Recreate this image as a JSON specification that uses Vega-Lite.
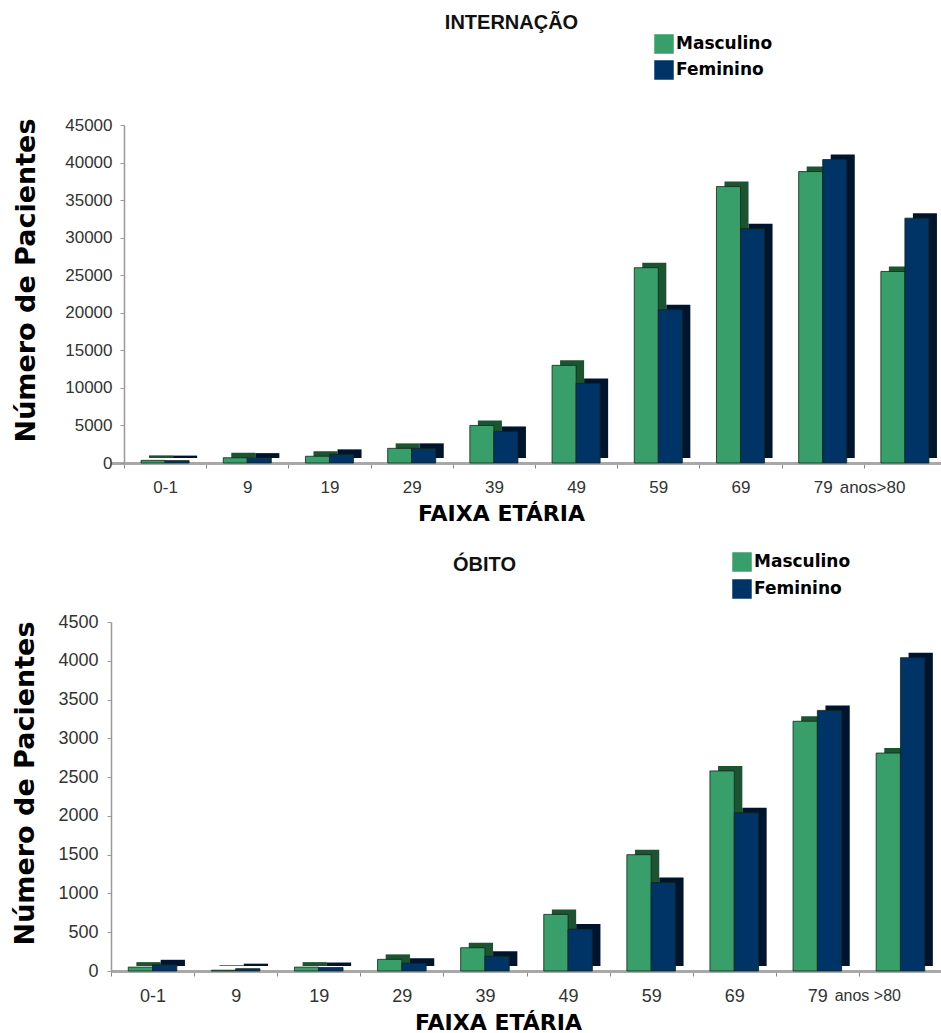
{
  "$schema": "https://vega.github.io/schema/vega-lite/v6.json",
  "background": "white",
  "padding": {"left": 11, "top": 13, "right": 0, "bottom": 0},
  "datasets": {
    "internacao": [
      {"faixa": "0-1", "sexo": "Masculino", "pacientes": 350},
      {"faixa": "0-1", "sexo": "Feminino", "pacientes": 320},
      {"faixa": "9", "sexo": "Masculino", "pacientes": 700},
      {"faixa": "9", "sexo": "Feminino", "pacientes": 650},
      {"faixa": "19", "sexo": "Masculino", "pacientes": 900},
      {"faixa": "19", "sexo": "Feminino", "pacientes": 1150},
      {"faixa": "29", "sexo": "Masculino", "pacientes": 1950},
      {"faixa": "29", "sexo": "Feminino", "pacientes": 1950},
      {"faixa": "39", "sexo": "Masculino", "pacientes": 5000},
      {"faixa": "39", "sexo": "Feminino", "pacientes": 4200},
      {"faixa": "49", "sexo": "Masculino", "pacientes": 13000},
      {"faixa": "49", "sexo": "Feminino", "pacientes": 10600},
      {"faixa": "59", "sexo": "Masculino", "pacientes": 26000},
      {"faixa": "59", "sexo": "Feminino", "pacientes": 20400},
      {"faixa": "69", "sexo": "Masculino", "pacientes": 36800},
      {"faixa": "69", "sexo": "Feminino", "pacientes": 31200},
      {"faixa": "79", "sexo": "Masculino", "pacientes": 38800},
      {"faixa": "79", "sexo": "Feminino", "pacientes": 40400},
      {"faixa": ">80", "sexo": "Masculino", "pacientes": 25500},
      {"faixa": ">80", "sexo": "Feminino", "pacientes": 32600}
    ],
    "obito": [
      {"faixa": "0-1", "sexo": "Masculino", "pacientes": 50},
      {"faixa": "0-1", "sexo": "Feminino", "pacientes": 80},
      {"faixa": "9", "sexo": "Masculino", "pacientes": 10},
      {"faixa": "9", "sexo": "Feminino", "pacientes": 30},
      {"faixa": "19", "sexo": "Masculino", "pacientes": 50},
      {"faixa": "19", "sexo": "Feminino", "pacientes": 45},
      {"faixa": "29", "sexo": "Masculino", "pacientes": 150},
      {"faixa": "29", "sexo": "Feminino", "pacientes": 100},
      {"faixa": "39", "sexo": "Masculino", "pacientes": 300},
      {"faixa": "39", "sexo": "Feminino", "pacientes": 190},
      {"faixa": "49", "sexo": "Masculino", "pacientes": 730},
      {"faixa": "49", "sexo": "Feminino", "pacientes": 540},
      {"faixa": "59", "sexo": "Masculino", "pacientes": 1500},
      {"faixa": "59", "sexo": "Feminino", "pacientes": 1140},
      {"faixa": "69", "sexo": "Masculino", "pacientes": 2580},
      {"faixa": "69", "sexo": "Feminino", "pacientes": 2040},
      {"faixa": "79", "sexo": "Masculino", "pacientes": 3220},
      {"faixa": "79", "sexo": "Feminino", "pacientes": 3360},
      {"faixa": ">80", "sexo": "Masculino", "pacientes": 2810},
      {"faixa": ">80", "sexo": "Feminino", "pacientes": 4040}
    ]
  },
  "vconcat": [
    {
      "data": {"name": "internacao"},
      "width": 835,
      "height": 338,
      "title": {
        "text": "INTERNAÇÃO",
        "font": "Liberation Sans",
        "fontSize": 20,
        "fontWeight": "bold",
        "color": "#111111",
        "anchor": "middle",
        "dx": -17,
        "baseline": "alphabetic",
        "offset": -15
      },
      "encoding": {
        "x": {
          "field": "faixa",
          "type": "nominal",
          "sort": ["0-1", "9", "19", "29", "39", "49", "59", "69", "79", ">80"],
          "scale": {"paddingInner": 0, "paddingOuter": 0.079, "align": 1},
          "axis": {
            "title": "FAIXA ETÁRIA",
            "titleFont": "DejaVu Sans",
            "titleFontSize": 22,
            "titleFontWeight": "bold",
            "titleColor": "black",
            "titleX": 390,
            "titlePadding": 8,
            "labelAngle": 0,
            "labelFont": "Liberation Sans",
            "labelFontSize": 17,
            "labelColor": "#333333",
            "labelPadding": 11,
            "labelExpr": "datum.value == '>80' ? 'anos>80' : datum.value",
            "labelAlign": {"condition": {"test": "datum.value == '>80'", "value": "right"}, "value": "center"},
            "tickBand": "extent",
            "tickSize": 5,
            "tickColor": "#888888",
            "domainColor": "#a8a8a8",
            "domainWidth": 3
          }
        },
        "y": {
          "field": "pacientes",
          "type": "quantitative",
          "scale": {"domain": [0, 45000], "nice": false},
          "axis": {
            "title": "Número de Pacientes",
            "titleFont": "DejaVu Sans",
            "titleFontSize": 27,
            "titleFontWeight": "bold",
            "titleColor": "black",
            "titlePadding": 24,
            "titleY": 155,
            "offset": -13,
            "values": [0, 5000, 10000, 15000, 20000, 25000, 30000, 35000, 40000, 45000],
            "format": "d",
            "labelFont": "Liberation Sans",
            "labelFontSize": 17,
            "labelColor": "#333333",
            "labelPadding": 8,
            "tickSize": 4,
            "tickColor": "#999999",
            "domainColor": "#999999",
            "domainWidth": 1.5,
            "grid": false
          }
        }
      },
      "layer": [
        {
          "mark": {"type": "bar", "yOffset": -5, "y2Offset": -5},
          "encoding": {
            "xOffset": {
              "field": "sexo",
              "sort": ["Masculino", "Feminino"],
              "scale": {"paddingInner": 0, "paddingOuter": 0.71, "align": 0.735}
            },
            "fill": {
              "condition": {"test": "datum.sexo == 'Masculino'", "value": "#1c5431"},
              "value": "#00142e"
            }
          }
        },
        {
          "mark": {"type": "bar", "stroke": "#10261a", "strokeWidth": 0.8},
          "encoding": {
            "xOffset": {
              "field": "sexo",
              "sort": ["Masculino", "Feminino"],
              "scale": {"paddingInner": 0, "paddingOuter": 0.71, "align": 0.5}
            },
            "color": {
              "field": "sexo",
              "scale": {"domain": ["Masculino", "Feminino"], "range": ["#389e6a", "#003366"]},
              "legend": {
                "title": null,
                "orient": "none",
                "legendX": 543,
                "legendY": -91,
                "symbolType": "square",
                "symbolSize": 380,
                "symbolStrokeWidth": 0,
                "labelFont": "DejaVu Sans",
                "labelFontSize": 17,
                "labelFontWeight": "bold",
                "labelColor": "black",
                "labelOffset": 2,
                "rowPadding": 6
              }
            }
          }
        }
      ],
      "resolve": {"scale": {"xOffset": "independent"}}
    },
    {
      "data": {"name": "obito"},
      "width": 831,
      "height": 349,
      "title": {
        "text": "ÓBITO",
        "font": "Liberation Sans",
        "fontSize": 20,
        "fontWeight": "bold",
        "color": "#111111",
        "anchor": "middle",
        "dx": -42,
        "baseline": "alphabetic",
        "offset": -39
      },
      "encoding": {
        "x": {
          "field": "faixa",
          "type": "nominal",
          "sort": ["0-1", "9", "19", "29", "39", "49", "59", "69", "79", ">80"],
          "scale": {"paddingInner": 0, "paddingOuter": 0},
          "axis": {
            "title": "FAIXA ETÁRIA",
            "titleFont": "DejaVu Sans",
            "titleFontSize": 22,
            "titleFontWeight": "bold",
            "titleColor": "black",
            "titleX": 387,
            "titlePadding": 7,
            "labelAngle": 0,
            "labelFont": "Liberation Sans",
            "labelColor": "#333333",
            "labelPadding": 11,
            "labelExpr": "datum.value == '>80' ? 'anos >80' : datum.value",
            "labelAlign": {"condition": {"test": "datum.value == '>80'", "value": "right"}, "value": "center"},
            "labelFontSize": {"condition": {"test": "datum.value == '>80'", "value": 16}, "value": 18},
            "tickBand": "extent",
            "tickSize": 5,
            "tickColor": "#888888",
            "domainColor": "#a8a8a8",
            "domainWidth": 3
          }
        },
        "y": {
          "field": "pacientes",
          "type": "quantitative",
          "scale": {"domain": [0, 4500], "nice": false},
          "axis": {
            "title": "Número de Pacientes",
            "titleFont": "DejaVu Sans",
            "titleFontSize": 27,
            "titleFontWeight": "bold",
            "titleColor": "black",
            "titlePadding": 18,
            "titleY": 161,
            "values": [0, 500, 1000, 1500, 2000, 2500, 3000, 3500, 4000, 4500],
            "format": "d",
            "labelFont": "Liberation Sans",
            "labelFontSize": 18,
            "labelColor": "#333333",
            "labelPadding": 9,
            "tickSize": 4,
            "tickColor": "#999999",
            "domainColor": "#999999",
            "domainWidth": 1.5,
            "grid": false
          }
        }
      },
      "layer": [
        {
          "mark": {"type": "bar", "yOffset": -5, "y2Offset": -5},
          "encoding": {
            "xOffset": {
              "field": "sexo",
              "sort": ["Masculino", "Feminino"],
              "scale": {"paddingInner": 0, "paddingOuter": 0.71, "align": 0.735}
            },
            "fill": {
              "condition": {"test": "datum.sexo == 'Masculino'", "value": "#1c5431"},
              "value": "#00142e"
            }
          }
        },
        {
          "mark": {"type": "bar", "stroke": "#10261a", "strokeWidth": 0.8},
          "encoding": {
            "xOffset": {
              "field": "sexo",
              "sort": ["Masculino", "Feminino"],
              "scale": {"paddingInner": 0, "paddingOuter": 0.71, "align": 0.5}
            },
            "color": {
              "field": "sexo",
              "scale": {"domain": ["Masculino", "Feminino"], "range": ["#389e6a", "#003366"]},
              "legend": {
                "title": null,
                "orient": "none",
                "legendX": 621,
                "legendY": -70,
                "symbolType": "square",
                "symbolSize": 380,
                "symbolStrokeWidth": 0,
                "labelFont": "DejaVu Sans",
                "labelFontSize": 17,
                "labelFontWeight": "bold",
                "labelColor": "black",
                "labelOffset": 2,
                "rowPadding": 7
              }
            }
          }
        }
      ],
      "resolve": {"scale": {"xOffset": "independent"}}
    }
  ],
  "spacing": 28,
  "resolve": {"scale": {"color": "independent"}, "legend": {"color": "independent"}},
  "config": {"view": {"stroke": null}}
}
